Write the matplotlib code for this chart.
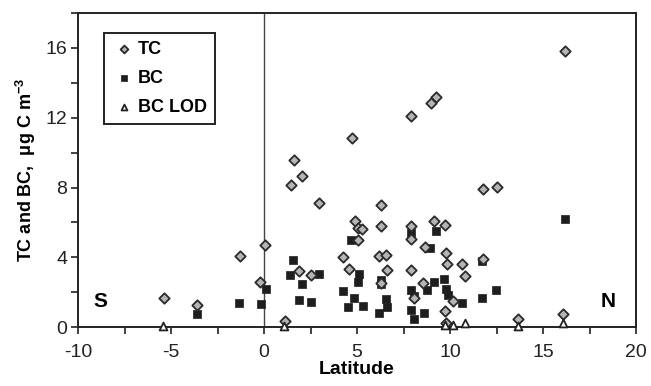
import matplotlib
matplotlib.use('Agg')
import matplotlib.pyplot as plt
from matplotlib.ticker import MultipleLocator

plt.rcParams['font.family'] = 'Liberation Sans'
plt.rcParams['axes.unicode_minus'] = False
plt.rcParams['mathtext.fontset'] = 'custom'
plt.rcParams['mathtext.bf'] = 'Liberation Sans:bold'
plt.rcParams['mathtext.rm'] = 'Liberation Sans:bold'

# total carbon
tc_lat = [-5.4, -3.6, -1.3, -0.2, 0.05, 1.1, 1.45, 1.6, 2.05, 2.95, 1.9, 2.5,
          4.75, 4.27, 4.55, 4.87, 5.07, 5.04, 16.2, 9.25, 8.96, 7.9, 11.75, 12.5,
          6.3, 6.27, 7.92, 7.9, 9.16, 9.71, 8.65, 6.2, 6.56, 9.78, 9.82, 10.65,
          11.75, 6.61, 7.92, 10.8, 8.53, 6.29, 8.06, 10.18, 9.75, 9.78, 13.64, 16.06,
          5.27]
tc_val = [1.7, 1.3, 4.1, 2.6, 4.7, 0.35, 8.15, 9.55, 8.65, 7.1, 3.2, 3.0,
          10.85, 4.05, 3.35, 6.1, 5.7, 5.0, 15.8, 13.2, 12.85, 12.1, 7.9, 8.05,
          7.0, 5.8, 5.8, 5.05, 6.1, 5.85, 4.6, 4.1, 4.15, 4.25, 3.6, 3.6,
          3.9, 3.3, 3.3, 2.95, 2.55, 2.55, 1.7, 1.5, 0.95, 0.25, 0.45, 0.75,
          5.6]

# black carbon
bc_lat = [-3.62, -1.33, -0.16, 0.09, 1.54, 1.38, 2.06, 1.86, 2.51, 2.97,
          4.27, 4.5, 4.86, 4.7, 5.04, 5.1, 16.16, 9.25, 7.9, 8.92, 11.7,
          6.29, 6.3, 5.3, 6.56, 6.59, 6.2, 7.9, 8.06, 7.9, 8.06, 8.59, 8.76,
          9.14, 9.68, 9.78, 9.89, 10.65, 11.7, 12.49]
bc_val = [0.75, 1.4, 1.35, 2.2, 3.85, 3.0, 2.5, 1.55, 1.45, 3.05,
          2.1, 1.15, 1.7, 5.0, 2.6, 3.05, 6.2, 5.5, 5.4, 4.55, 3.8,
          2.5, 2.7, 1.2, 1.6, 1.15, 0.8, 2.15, 1.8, 1.0, 0.5, 0.8, 2.15,
          2.6, 2.75, 2.2, 1.85, 1.4, 1.7, 2.15]

# samples below the BC detection limit
lod_lat = [-5.45, 1.08, 9.71, 10.14, 10.79, 13.64, 16.06]
lod_val = [0.1, 0.1, 0.15, 0.15, 0.25, 0.1, 0.25]

fig = plt.figure(figsize=(6.51, 3.86), dpi=100)
ax = fig.add_axes([0.12, 0.152, 0.857, 0.815])

ax.axvline(0, color='#444444', linewidth=1, zorder=1)

ax.scatter(tc_lat, tc_val, marker='D', s=28, facecolor='#b4b4b4',
           edgecolor='#2a2a2a', linewidth=1.3, zorder=3, label='TC')
ax.scatter(bc_lat, bc_val, marker='s', s=30, facecolor='#1e1e1e',
           edgecolor='#1e1e1e', linewidth=0.5, zorder=2, label='BC')
ax.scatter(lod_lat, lod_val, marker='^', s=32, facecolor='white',
           edgecolor='#222222', linewidth=1.3, zorder=4, label='BC LOD',
           clip_on=False)

ax.set_xlim(-10, 20)
ax.set_ylim(0, 18)
ax.xaxis.set_major_locator(MultipleLocator(5))
ax.xaxis.set_minor_locator(MultipleLocator(2.5))
ax.yaxis.set_major_locator(MultipleLocator(4))
ax.yaxis.set_minor_locator(MultipleLocator(2))
ax.tick_params(which='both', direction='out', length=5, width=1.2,
               labelsize=14, colors='#222222')
ax.tick_params(axis='x', pad=7)
ax.tick_params(axis='y', pad=3)
for sp in ax.spines.values():
    sp.set_linewidth(1.4)
    sp.set_color('#222222')

ax.set_xlabel('Latitude', fontsize=14, fontweight='bold', labelpad=0)
ax.set_ylabel(r'TC and BC,  $\mathregular{\mu}$g C m$^{-3}$', fontsize=13,
              fontweight='bold', labelpad=5)

ax.text(-8.8, 1.5, 'S', fontsize=15, fontweight='bold', ha='center', va='center')
ax.text(18.5, 1.5, 'N', fontsize=15, fontweight='bold', ha='center', va='center')

leg = ax.legend(loc='upper left', bbox_to_anchor=(0.047, 0.937), fancybox=False,
                edgecolor='#222222', prop={'weight': 'bold', 'size': 13},
                handletextpad=0.1, borderpad=0.45, labelspacing=0.68,
                handlelength=1.3, framealpha=1, markerscale=0.75,
                borderaxespad=0)
leg.get_frame().set_linewidth(1.4)

fig.savefig('out.png', dpi=100)
